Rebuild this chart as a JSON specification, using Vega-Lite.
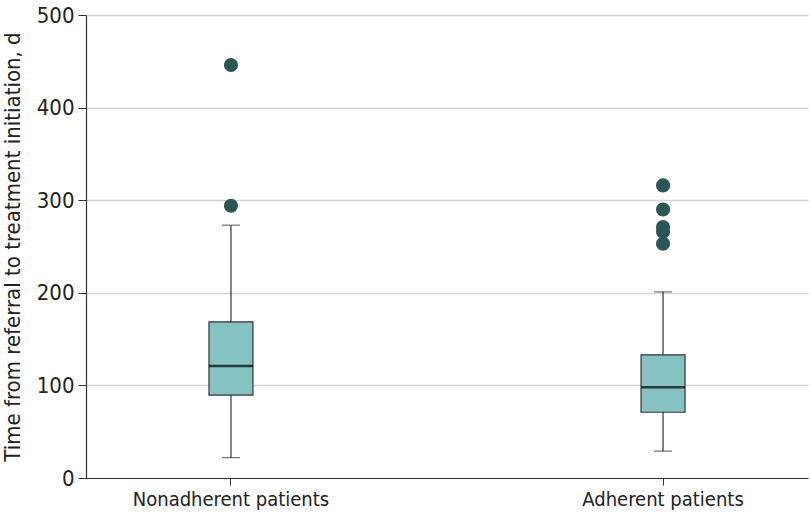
{
  "$schema": "https://vega.github.io/schema/vega-lite/v6.json",
  "autosize": "none",
  "width": 722,
  "height": 463,
  "padding": {"left": 86, "top": 15, "right": 2, "bottom": 36},
  "config": {
    "view": {"stroke": null},
    "font": "DejaVu Sans Condensed",
    "axis": {"labelFont": "DejaVu Sans Condensed", "titleFont": "DejaVu Sans Condensed", "labelColor": "#222", "titleColor": "#222", "domainColor": "#333", "tickColor": "#333", "titleFontWeight": "normal"}
  },
  "datasets": {
    "stats": [
      {"group": "Nonadherent patients", "lower": 22, "q1": 89.5, "median": 121, "q3": 168.5, "upper": 273},
      {"group": "Adherent patients", "lower": 29, "q1": 71, "median": 98, "q3": 133, "upper": 201}
    ],
    "outliers": [
      {"group": "Nonadherent patients", "value": 446},
      {"group": "Nonadherent patients", "value": 294},
      {"group": "Adherent patients", "value": 316},
      {"group": "Adherent patients", "value": 290},
      {"group": "Adherent patients", "value": 271},
      {"group": "Adherent patients", "value": 266},
      {"group": "Adherent patients", "value": 253}
    ]
  },
  "encoding": {
    "x": {
      "field": "group", "type": "nominal",
      "sort": ["Nonadherent patients", "Adherent patients"],
      "scale": {"paddingInner": 0.5, "paddingOuter": 0.0855},
      "axis": {"title": null, "labelAngle": 0, "labelFontSize": 20, "labelLimit": 0, "labelPadding": 4, "tickSize": 7, "domainWidth": 1.2, "grid": false}
    }
  },
  "layer": [
    {
      "data": {"name": "stats"},
      "mark": {"type": "rule", "color": "#333", "strokeWidth": 1.2},
      "encoding": {
        "y": {"field": "lower", "type": "quantitative",
          "scale": {"domain": [0, 500], "nice": false},
          "axis": {"title": "Time from referral to treatment initiation, d", "titleFontSize": 22, "titlePadding": 12, "labelFontSize": 22, "labelPadding": 4, "tickSize": 8, "values": [0, 100, 200, 300, 400, 500], "gridColor": "#d4d4d4", "gridWidth": 1.5, "domainWidth": 1.2}},
        "y2": {"field": "upper"}
      }
    },
    {
      "data": {"name": "stats"},
      "mark": {"type": "tick", "color": "#333", "size": 18, "thickness": 1.2, "orient": "horizontal"},
      "encoding": {"y": {"field": "lower", "type": "quantitative"}}
    },
    {
      "data": {"name": "stats"},
      "mark": {"type": "tick", "color": "#333", "size": 18, "thickness": 1.2, "orient": "horizontal"},
      "encoding": {"y": {"field": "upper", "type": "quantitative"}}
    },
    {
      "data": {"name": "stats"},
      "mark": {"type": "bar", "size": 44, "fill": "#84c3c1", "stroke": "#333", "strokeWidth": 1.2},
      "encoding": {
        "y": {"field": "q1", "type": "quantitative"},
        "y2": {"field": "q3"}
      }
    },
    {
      "data": {"name": "stats"},
      "mark": {"type": "tick", "color": "#000", "size": 44, "thickness": 2.5, "orient": "horizontal"},
      "encoding": {"y": {"field": "median", "type": "quantitative"}}
    },
    {
      "data": {"name": "outliers"},
      "mark": {"type": "circle", "size": 200, "color": "#2a5655", "opacity": 1},
      "encoding": {"y": {"field": "value", "type": "quantitative"}}
    }
  ]
}
